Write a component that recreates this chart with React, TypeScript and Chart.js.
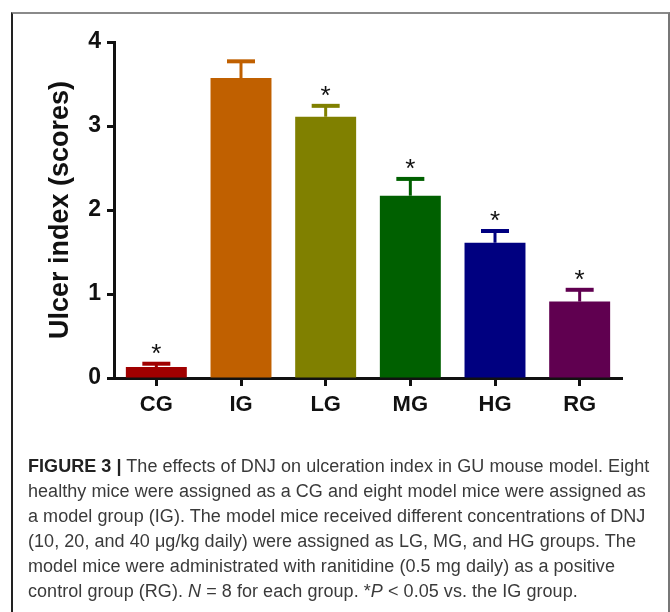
import React, { useEffect, useRef } from "react";
import { Chart, registerables } from "chart.js";

Chart.register(...registerables);

const categories = ["CG", "IG", "LG", "MG", "HG", "RG"];
const means = [0.13, 3.57, 3.11, 2.17, 1.61, 0.91];
const errors = [0.04, 0.2, 0.13, 0.2, 0.14, 0.14];
const significant = [true, false, true, true, true, true];
const barColors = ["#a00000", "#c06000", "#808000", "#006000", "#000080", "#600050"];
const yTicks = [0, 1, 2, 3, 4];

const errorBarPlugin = {
  id: "errorBars",
  afterDatasetsDraw(chart: any) {
    const ctx = chart.ctx;
    const meta = chart.getDatasetMeta(0);
    const y = chart.scales.y;
    ctx.save();
    meta.data.forEach((bar: any, i: number) => {
      const x = bar.x;
      const top = y.getPixelForValue(means[i]);
      const cap = y.getPixelForValue(means[i] + errors[i]);
      ctx.strokeStyle = barColors[i];
      ctx.lineWidth = 3;
      ctx.beginPath();
      ctx.moveTo(x, top);
      ctx.lineTo(x, cap);
      ctx.stroke();
      ctx.lineWidth = 4;
      ctx.beginPath();
      ctx.moveTo(x - 14, cap);
      ctx.lineTo(x + 14, cap);
      ctx.stroke();
      if (significant[i]) {
        ctx.fillStyle = "#111";
        ctx.font = "26px 'Liberation Sans', Arial, sans-serif";
        ctx.textAlign = "center";
        ctx.textBaseline = "alphabetic";
        ctx.fillText("*", x, cap - 14 + 12);
      }
    });
    ctx.restore();
  },
};

function ChartView() {
  const ref = useRef<HTMLCanvasElement>(null);
  useEffect(() => {
    if (!ref.current) return;
    const chart = new Chart(ref.current, {
      type: "bar",
      data: {
        labels: categories,
        datasets: [
          {
            data: means,
            backgroundColor: barColors,
            borderWidth: 0,
            barPercentage: 0.72,
            categoryPercentage: 1,
          },
        ],
      },
      options: {
        animation: false,
        responsive: false,
        layout: { padding: { top: 42, right: 48, bottom: 2, left: 0 } },
        plugins: { legend: { display: false }, tooltip: { enabled: false } },
        scales: {
          x: {
            grid: { offset: false, drawOnChartArea: false, drawTicks: true, tickLength: 8, tickWidth: 3, tickColor: "#111" },
            border: { display: true, width: 3, color: "#111" },
            ticks: {
              color: "#111",
              padding: 6,
              font: { family: "'Liberation Sans', Arial, sans-serif", size: 22, weight: "bold" },
            },
            afterFit: (s: any) => {
              s.height = 60;
            },
          },
          y: {
            min: 0,
            max: 4,
            afterBuildTicks: (s: any) => {
              s.ticks = yTicks.map((v) => ({ value: v }));
            },
            grid: { drawOnChartArea: false, drawTicks: true, tickLength: 7, tickWidth: 3, tickColor: "#111" },
            border: { display: true, width: 3, color: "#111" },
            ticks: {
              color: "#111",
              padding: 6,
              font: { family: "'Liberation Sans', Arial, sans-serif", size: 23, weight: "bold" },
            },
            title: {
              display: true,
              text: "Ulcer index (scores)",
              color: "#111",
              padding: { top: 44, bottom: 0 },
              font: { family: "'Liberation Sans', Arial, sans-serif", size: 27, weight: "bold" },
            },
            afterFit: (s: any) => {
              s.width = 114;
            },
          },
        },
      },
      plugins: [errorBarPlugin],
    });
    return () => chart.destroy();
  }, []);
  return <canvas ref={ref} width={670} height={440} style={{ position: "absolute", left: 0, top: 0 }} />;
}

const lineStyle: React.CSSProperties = { whiteSpace: "nowrap", height: 25, lineHeight: "25px" };

export default function App() {
  return (
    <div style={{ position: "absolute", left: 0, top: 0, width: 670, height: 612, overflow: "hidden", background: "#fff" }}>
      <ChartView />
      <div
        style={{
          position: "absolute",
          left: 11,
          top: 12,
          width: 655,
          height: 640,
          borderTop: "2px solid #8a8a8a",
          borderLeft: "2px solid #222",
          borderRight: "2px solid #777",
          pointerEvents: "none",
        }}
      />
      <div
        style={{
          position: "absolute",
          left: 28,
          top: 454,
          fontFamily: "'Liberation Sans', Arial, sans-serif",
          fontSize: 18,
          color: "#3a3a3a",
          letterSpacing: "0.05px",
        }}
      >
        <div style={lineStyle}>
          <b style={{ color: "#222" }}>FIGURE 3 |</b> The effects of DNJ on ulceration index in GU mouse model. Eight
        </div>
        <div style={lineStyle}>healthy mice were assigned as a CG and eight model mice were assigned as</div>
        <div style={lineStyle}>a model group (IG). The model mice received different concentrations of DNJ</div>
        <div style={lineStyle}>(10, 20, and 40 μg/kg daily) were assigned as LG, MG, and HG groups. The</div>
        <div style={lineStyle}>model mice were administrated with ranitidine (0.5 mg daily) as a positive</div>
        <div style={lineStyle}>
          control group (RG). <i>N</i> = 8 for each group. *<i>P</i> &lt; 0.05 vs. the IG group.
        </div>
      </div>
    </div>
  );
}
